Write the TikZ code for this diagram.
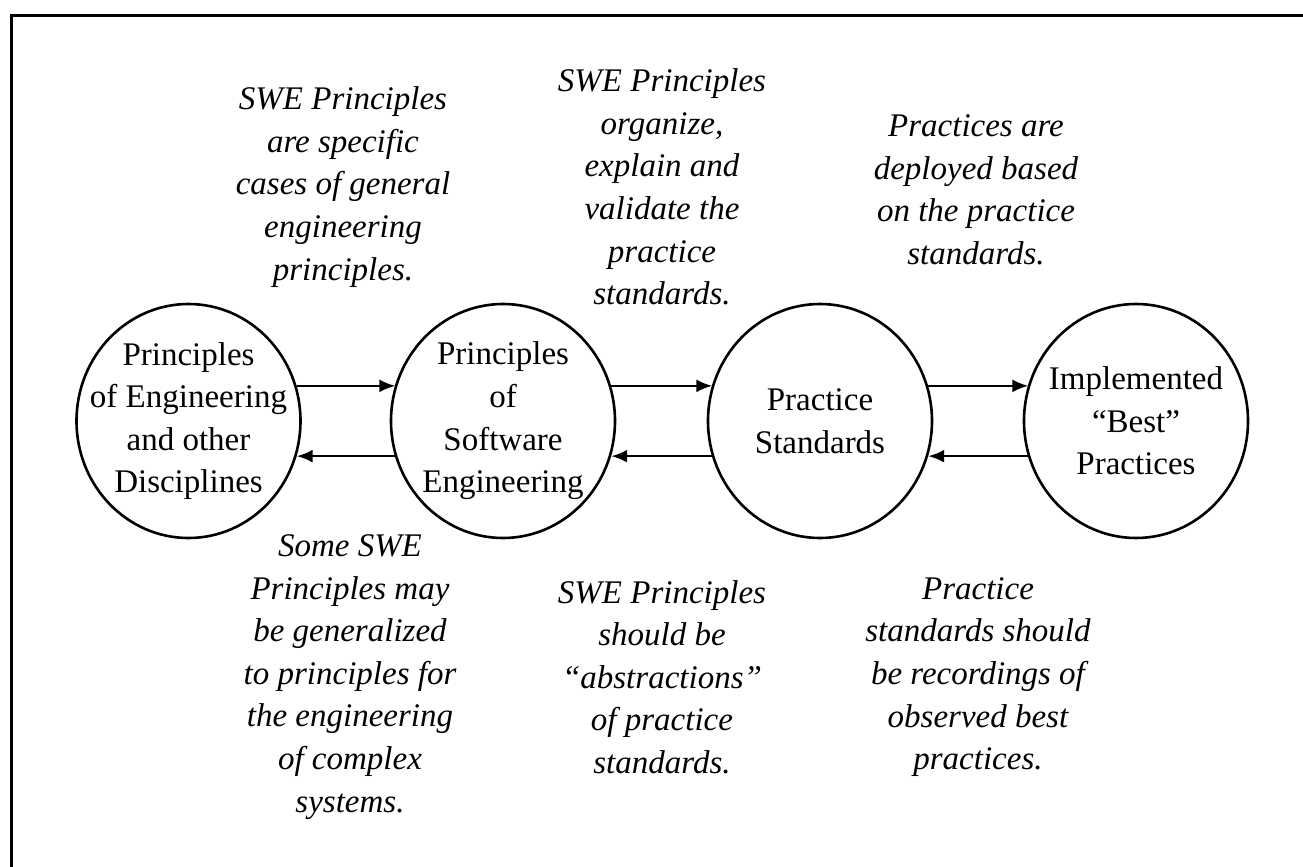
\documentclass[tikz,border=0pt]{standalone}
\usepackage{fontspec}
\setmainfont{Liberation Serif}
\usetikzlibrary{positioning}
\usetikzlibrary{arrows.meta}
\usetikzlibrary{shapes}

\begin{document}
\begin{tikzpicture}[x=0.5pt, y=-0.5pt, >={Latex[length=8pt,width=6.5pt]},
ctext/.style={align=center,inner sep=0pt,font=\fontsize{16.5}{21.3}\selectfont},
circ/.style={ellipse,draw,line width=1.3pt,minimum width=112pt,minimum height=117pt,inner sep=0pt,label={[ctext]center:#1}},
note/.style={align=center,inner sep=0pt,font=\fontsize{16.5}{21.3}\selectfont\itshape},
link/.style={->,line width=1.3pt}]

\useasboundingbox (0,0) rectangle (1303,867);

% frame
\coordinate (fr) at (1303,15);
\coordinate (fl) at (11,15);
\coordinate (fb) at (11,867);
\draw [line width=1.5pt] (fr) -- (fl) -- (fb);

% the four circles
\node [circ={Principles\\of Engineering\\and other\\Disciplines}](peng) at (188.5,421) {};
\node [circ={Principles\\of\\Software\\Engineering}](pswe) at (503,421) {};
\node [circ={Practice\\Standards}](pstd) at (820,421) {};
\node [circ={Implemented\\``Best''\\Practices}](best) at (1136,421) {};

\draw [link] (peng.18.7) -- (peng.18.7 -| pswe.161.3);
\draw [link] (pswe.198.7) -- (pswe.198.7 -| peng.-18.7);
\draw [link] (pswe.18.7) -- (pswe.18.7 -| pstd.161.3);
\draw [link] (pstd.198.7) -- (pstd.198.7 -| pswe.-18.7);
\draw [link] (pstd.18.7) -- (pstd.18.7 -| best.161.3);
\draw [link] (best.198.7) -- (best.198.7 -| pstd.-18.7);

% notes above
\node [note](up1) at (343,187) {SWE Principles\\are specific\\cases of general\\engineering\\principles.};
\node [note](up2) at (662,187) {SWE Principles\\organize,\\explain and\\validate the\\practice\\standards.};
\node [note](up3) at (976,190) {Practices are\\deployed based\\on the practice\\standards.};

% notes below
\node [note](dn1) at (350,677) {Some SWE\\Principles may\\be generalized\\to principles for\\the engineering\\of complex\\systems.};
\node [note](dn2) at (662,677) {SWE Principles\\should be\\``abstractions''\\of practice\\standards.};
\node [note](dn3) at (978,677) {Practice\\standards should\\be recordings of\\observed best\\practices.};
\end{tikzpicture}
\end{document}
